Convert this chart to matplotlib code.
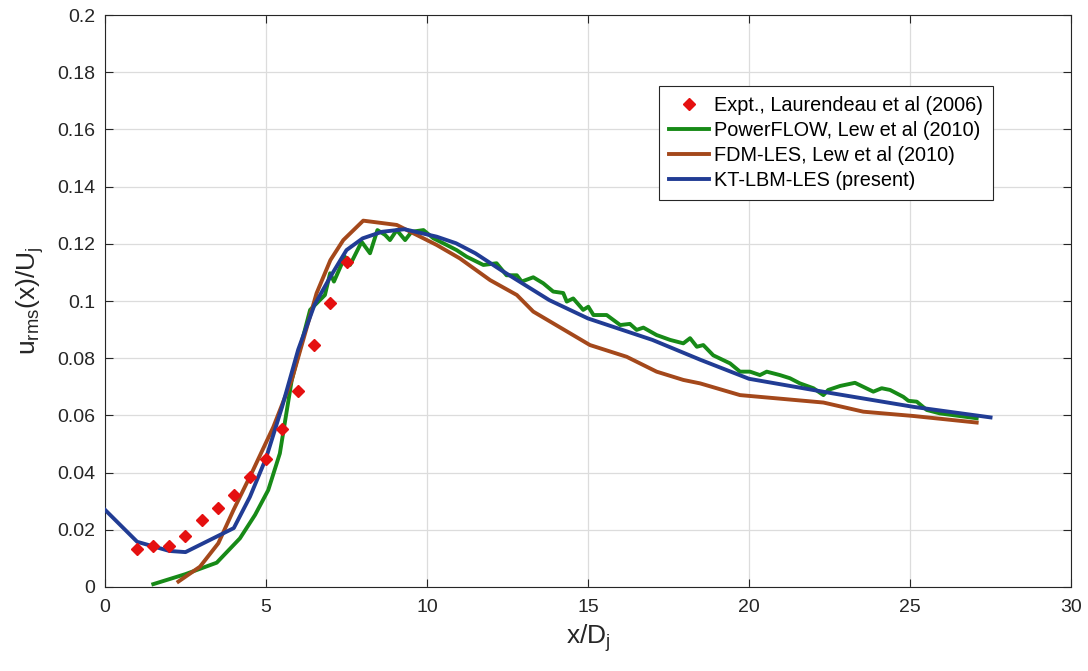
import matplotlib
matplotlib.use("Agg")
import matplotlib.pyplot as plt

plt.rcParams['font.family'] = ['Liberation Sans', 'DejaVu Sans']

# Experimental data (Laurendeau et al 2006)
expt_x = [1.0, 1.5, 2.0, 2.5, 3.0, 3.5, 4.0, 4.5, 5.0, 5.5, 6.0, 6.5, 7.0, 7.5]
expt_y = [0.0132, 0.0144, 0.0142, 0.0180, 0.0234, 0.0275, 0.0322, 0.0384,
          0.0449, 0.0551, 0.0686, 0.0845, 0.0994, 0.1135]

# PowerFLOW, Lew et al (2010)
pf_x = [1.5, 2.5, 3.47, 4.19, 4.66, 5.07, 5.43, 5.8, 6.37, 6.83, 6.99, 7.11, 7.45,
        7.61, 7.97, 8.23, 8.46, 8.7, 8.85, 9.06, 9.32, 9.52, 9.89, 10.2, 10.61,
        10.92, 11.23, 11.5, 11.75, 12.16, 12.47, 12.79, 12.94, 13.3, 13.61, 13.92,
        14.23, 14.34, 14.54, 14.85, 15.01, 15.17, 15.58, 16.0, 16.3, 16.51, 16.72,
        17.13, 17.55, 17.96, 18.17, 18.38, 18.58, 18.89, 19.41, 19.72, 20.03,
        20.34, 20.55, 20.96, 21.27, 21.58, 22.0, 22.31, 22.46, 22.83, 23.29,
        23.86, 24.12, 24.38, 24.79, 24.95, 25.21, 25.52, 25.93, 27.07]
pf_y = [0.0010, 0.0045, 0.0085, 0.0170, 0.0252, 0.0339, 0.0467, 0.0724, 0.0969,
        0.1021, 0.1097, 0.1068, 0.1155, 0.1126, 0.1207, 0.1167, 0.1248, 0.1231,
        0.1213, 0.1248, 0.1213, 0.1242, 0.1248, 0.1219, 0.1196, 0.1178, 0.1155,
        0.1140, 0.1126, 0.1132, 0.1090, 0.1090, 0.1068, 0.1083, 0.1062, 0.1033,
        0.1028, 0.0998, 0.1009, 0.0969, 0.0980, 0.0951, 0.0951, 0.0916, 0.0920,
        0.0899, 0.0907, 0.0881, 0.0864, 0.0852, 0.0870, 0.0840, 0.0846, 0.0810,
        0.0782, 0.0753, 0.0753, 0.0741, 0.0753, 0.0741, 0.0730, 0.0712, 0.0695,
        0.0671, 0.0689, 0.0703, 0.0714, 0.0683, 0.0695, 0.0689, 0.0665, 0.0651,
        0.0648, 0.0619, 0.0607, 0.0590]

# FDM-LES, Lew et al (2010)
fdm_x = [2.28, 2.95, 3.52, 3.99, 4.6, 5.23, 5.8, 6.57, 7.0, 7.4, 8.02, 9.06, 9.68,
         10.3, 11.02, 11.96, 12.79, 13.3, 15.06, 16.2, 17.13, 17.96, 18.48, 19.72,
         22.31, 23.55, 25.1, 27.07]
fdm_y = [0.0019, 0.0071, 0.0153, 0.0269, 0.0409, 0.0560, 0.0724, 0.1027, 0.1143,
         0.1213, 0.1281, 0.1266, 0.1231, 0.1196, 0.1149, 0.1073, 0.1021, 0.0963,
         0.0846, 0.0805, 0.0753, 0.0724, 0.0712, 0.0671, 0.0645, 0.0613, 0.0598,
         0.0575]

# KT-LBM-LES (present)
kt_x = [0.0, 1.0, 2.0, 2.5, 4.0, 4.5, 5.0, 5.5, 6.0, 6.5, 7.0, 7.5, 8.0, 8.6, 9.3,
        10.3, 10.9, 11.5, 12.3, 13.8, 15.0, 17.0, 18.5, 20.0, 22.6, 25.1, 27.5]
kt_y = [0.0270, 0.0158, 0.0126, 0.0122, 0.0206, 0.0315, 0.0450, 0.0630, 0.0830,
        0.0985, 0.1085, 0.1178, 0.1219, 0.1242, 0.1251, 0.1225, 0.1202, 0.1167,
        0.1108, 0.1003, 0.0939, 0.0864, 0.0794, 0.0728, 0.0677, 0.0630, 0.0593]

labels = ["Expt., Laurendeau et al (2006)", "PowerFLOW, Lew et al (2010)",
          "FDM-LES, Lew et al (2010)", "KT-LBM-LES (present)"]

fig = plt.figure(figsize=(10.88, 6.71), dpi=100)
ax = fig.add_axes([0.0965, 0.1252, 0.8879, 0.8524])

ax.plot(expt_x, expt_y, linestyle='none', marker='D', markersize=6.5,
        color='#e51010', label=labels[0], zorder=5)
ax.plot(pf_x, pf_y, color='#178a17', lw=2.8, label=labels[1], zorder=3)
ax.plot(fdm_x, fdm_y, color='#a4481b', lw=2.8, label=labels[2], zorder=3)
ax.plot(kt_x, kt_y, color='#213c94', lw=2.8, label=labels[3], zorder=4)

ax.set_xlim(0, 30)
ax.set_ylim(0, 0.2)
ax.set_xticks([0, 5, 10, 15, 20, 25, 30])
ax.set_yticks([0, 0.02, 0.04, 0.06, 0.08, 0.1, 0.12, 0.14, 0.16, 0.18, 0.2])
ax.set_yticklabels(['0', '0.02', '0.04', '0.06', '0.08', '0.1', '0.12', '0.14',
                    '0.16', '0.18', '0.2'])
ax.grid(True, color='#dcdcdc', lw=0.9)
ax.set_axisbelow(True)
ax.tick_params(direction='in', length=6, width=0.8, labelsize=14, colors='#262626',
               top=True, right=True, pad=7)
ax.tick_params(axis='x', pad=9)
for s in ax.spines.values():
    s.set_color('#262626')
    s.set_linewidth(0.8)

ax.set_xlabel(r'x/D$_\mathregular{j}$', fontsize=19, color='#262626', labelpad=4)
ax.set_ylabel(r'u$_\mathregular{rms}$(x)/U$_\mathregular{j}$', fontsize=19,
              color='#262626', labelpad=8)

leg = ax.legend(loc='upper left', bbox_to_anchor=(0.5735, 0.876), fontsize=14.3,
                frameon=True, fancybox=False, edgecolor='#262626', framealpha=1,
                handlelength=2.0, handletextpad=0.25, borderpad=0.5,
                labelspacing=0.3, borderaxespad=0)
leg.get_frame().set_linewidth(0.8)

fig.savefig('out.png', dpi=100)
